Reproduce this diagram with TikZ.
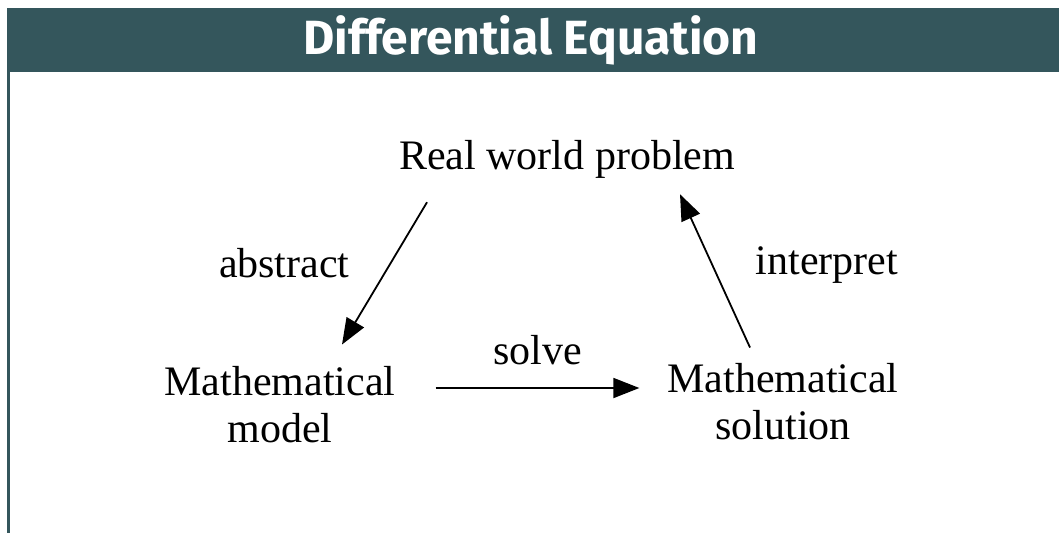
\documentclass[tikz,border=0pt]{standalone}
\usepackage{fontspec}
\setmainfont{Liberation Serif}
\newfontfamily\headfont[Ligatures=NoCommon]{Fira Sans}
\usetikzlibrary{arrows.meta,calc,positioning}
\definecolor{headteal}{HTML}{34565C}

\begin{document}
\begin{tikzpicture}[x=1pt,y=-1pt,
  lbl/.style={font=\fontsize{42}{47}\selectfont,inner sep=0pt,align=center},
  arr/.style={line width=1.8pt,-{Triangle[length=26pt,width=20pt]}}]
  \useasboundingbox (0,0) rectangle (1059,533);
  \fill[white] (0,0) rectangle (1059,533);
  \fill[headteal] (7,8) rectangle (1059,72);
  \draw[headteal,line width=2.5pt] (8.5,72) -- (8.5,533);
  \node[text=white,font=\headfont\bfseries\fontsize{48}{50}\selectfont] (title) at (531,40) {Differential Equation};
  % the three stages
  \node[lbl] (real) at (567,159) {Real world problem};
  \node[lbl] (model) at (280,405) {Mathematical\\model};
  \node[lbl] (sol) at (783,402) {Mathematical\\solution};
  % arrows between them
  \coordinate (absA) at ($(real.south)+(-140,24)$);
  \coordinate (absB) at ($(model.north)+(62,-22)$);
  \draw[arr] (absA) -- (absB) node[pos=0.5,left=34pt,yshift=10pt,lbl] (abstract) {abstract};
  \draw[arr] ($(model.east)+(40,-17)$) -- ($(sol.west)+(-28,-14)$) node[pos=0.5,above=22pt,lbl] (solve) {solve};
  \draw[arr] ($(sol.north)+(-33,-16)$) -- ($(real.south)+(113,16)$) node[pos=0.5,right=40pt,yshift=6pt,lbl] (interpret) {interpret};
\end{tikzpicture}
\end{document}
